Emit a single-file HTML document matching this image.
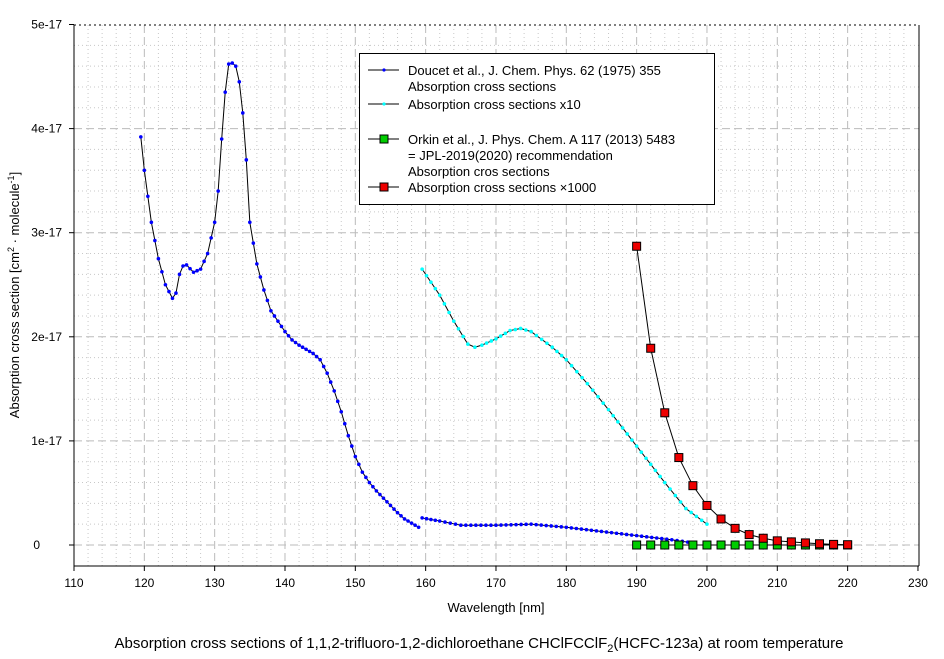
<!DOCTYPE html>
<html><head><meta charset="utf-8"><style>
body{margin:0;background:#fff;}
svg{display:block;font-family:"Liberation Sans",Arial,sans-serif;}
</style></head><body>
<svg id="s" width="944" height="659" xmlns="http://www.w3.org/2000/svg"></svg>
<script>
const s=document.getElementById('s');
const X=l=>74+(l-110)*7.033, Y=v=>545-v*104.1;
let h='';
for(let l=112;l<230;l+=2){if(l%10)h+=`<line x1="${X(l)}" y1="25" x2="${X(l)}" y2="566" stroke="#c8c8c8" stroke-dasharray="1,3"/>`;}
for(let r=2;r<50;r+=2){if(r%10)h+=`<line x1="74" y1="${Y(r/10)}" x2="919" y2="${Y(r/10)}" stroke="#c8c8c8" stroke-dasharray="1,3"/>`;}
for(let l=120;l<230;l+=10)h+=`<line x1="${X(l)}" y1="25" x2="${X(l)}" y2="566" stroke="#bbb" stroke-dasharray="8,4"/>`;
for(let v=0;v<5;v++)h+=`<line x1="74" y1="${Y(v)}" x2="919" y2="${Y(v)}" stroke="#bbb" stroke-dasharray="8,4"/>`;
h+=`<line x1="74" y1="25" x2="919" y2="25" stroke="#000" stroke-dasharray="2,3"/>`;
h+=`<line x1="74" y1="25" x2="74" y2="566" stroke="#000"/><line x1="919" y1="25" x2="919" y2="566" stroke="#000"/><line x1="74" y1="566" x2="919" y2="566" stroke="#000"/>`;
for(let l=110;l<=230;l+=10)h+=`<line x1="${X(l)}" y1="566" x2="${X(l)}" y2="571" stroke="#000"/><text x="${X(l)}" y="587" font-size="12" text-anchor="middle">${l}</text>`;
const yl=['0','1e-17','2e-17','3e-17','4e-17','5e-17'];
for(let v=0;v<=5;v++)h+=`<line x1="69" y1="${Y(v)}" x2="74" y2="${Y(v)}" stroke="#000"/><text x="${v==0?40:62}" y="${Y(v)+4}" font-size="12" text-anchor="end">${yl[v]}</text>`;
function dense(p,step){let o=[];for(let i=0;i<p.length-1;i++){let [a,b]=p[i],[c,d]=p[i+1];let n=Math.max(1,Math.round((c-a)/step));for(let k=0;k<n;k++)o.push([a+(c-a)*k/n,b+(d-b)*k/n]);}o.push(p[p.length-1]);return o;}
function series(p,col,step,sq){let pts=sq?p:dense(p,step);h+=`<polyline fill="none" stroke="#000" stroke-width="1" points="${pts.map(q=>X(q[0])+','+Y(q[1])).join(' ')}"/>`;
for(const q of pts){if(sq)h+=`<rect x="${X(q[0])-4}" y="${Y(q[1])-4}" width="8" height="8" fill="${col}" stroke="#000"/>`;else h+=`<circle cx="${X(q[0])}" cy="${Y(q[1])}" r="1.8" fill="${col}"/>`;}}
const d1=[[119.5,3.92],[120,3.6],[121,3.1],[122,2.75],[123,2.5],[124,2.37],[124.5,2.42],[125,2.6],[125.5,2.68],[126,2.69],[127,2.62],[128,2.65],[129,2.8],[130,3.1],[130.5,3.4],[131,3.9],[131.5,4.35],[132,4.62],[132.5,4.63],[133,4.6],[133.5,4.45],[134,4.15],[134.5,3.7],[135,3.1],[136,2.7],[137,2.45],[138,2.25],[139,2.15],[140,2.05],[141,1.97],[142,1.92],[143,1.88],[144,1.84],[145,1.78],[146,1.65],[147,1.48],[148,1.28],[149,1.05],[150,0.85],[151,0.7],[152,0.6],[153,0.52],[154,0.45],[155,0.38],[156,0.31],[157,0.25],[158,0.21],[159,0.17]];
const d2=[[159.5,0.26],[162,0.23],[165,0.19],[170,0.19],[175,0.2],[180,0.17],[185,0.13],[190,0.09],[195,0.05],[198,0.02]];
const c1=[[159.5,2.65],[162,2.4],[164,2.15],[166,1.93],[167,1.9],[168,1.92],[170,1.98],[172,2.06],[173.5,2.08],[175,2.05],[178,1.9],[180,1.78],[183,1.55],[186,1.3],[190,0.95],[194,0.6],[197,0.35],[200,0.2]];
series(d1,'#00f',0.5);series(d2,'#00f',0.7);series(c1,'#0ff',0.7);
let g=[];for(let l=190;l<=220;l+=2)g.push([l,0]);series(g,'#0c0',0,1);
const r=[[190,2.87],[192,1.89],[194,1.27],[196,0.84],[198,0.57],[200,0.38],[202,0.25],[204,0.16],[206,0.1],[208,0.065],[210,0.04],[212,0.03],[214,0.02],[216,0.012],[218,0.006],[220,0.003]];
series(r,'#e00',0,1);
h+=`<rect x="359.5" y="53.5" width="355" height="151" fill="#fff" stroke="#000"/>`;
const L=[[70,'Doucet et al., J. Chem. Phys. 62 (1975) 355','l','#00f'],[86,'Absorption cross sections'],[104,'Absorption cross sections x10','l','#0ff'],[139,'Orkin et al., J. Phys. Chem. A 117 (2013) 5483','s','#0c0'],[155,'= JPL-2019(2020) recommendation'],[171,'Absorption cros sections'],[187,'Absorption cross sections \u00d71000','s','#e00']];
for(const [y,t,k,c] of L){h+=`<text x="408" y="${y+5}" font-size="13">${t}</text>`;if(k){h+=`<line x1="368" y1="${y}" x2="399" y2="${y}" stroke="#000"/>`;h+=k=='l'?`<circle cx="384" cy="${y}" r="1.6" fill="${c}"/>`:`<rect x="380" y="${y-4}" width="8" height="8" fill="${c}" stroke="#000"/>`;}}
h+=`<text x="496" y="612" font-size="13" text-anchor="middle">Wavelength [nm]</text>`;
h+=`<text transform="translate(19,295) rotate(-90)" font-size="13" text-anchor="middle">Absorption cross section [cm<tspan dy="-5" font-size="9">2</tspan><tspan dy="5"> · molecule</tspan><tspan dy="-5" font-size="9">-1</tspan><tspan dy="5">]</tspan></text>`;
h+=`<text x="479" y="648" font-size="15" text-anchor="middle">Absorption cross sections of 1,1,2-trifluoro-1,2-dichloroethane CHClFCClF<tspan dy="4" font-size="11">2</tspan><tspan dy="-4">(HCFC-123a) at room temperature</tspan></text>`;
s.innerHTML=h;
</script>
</body></html>
